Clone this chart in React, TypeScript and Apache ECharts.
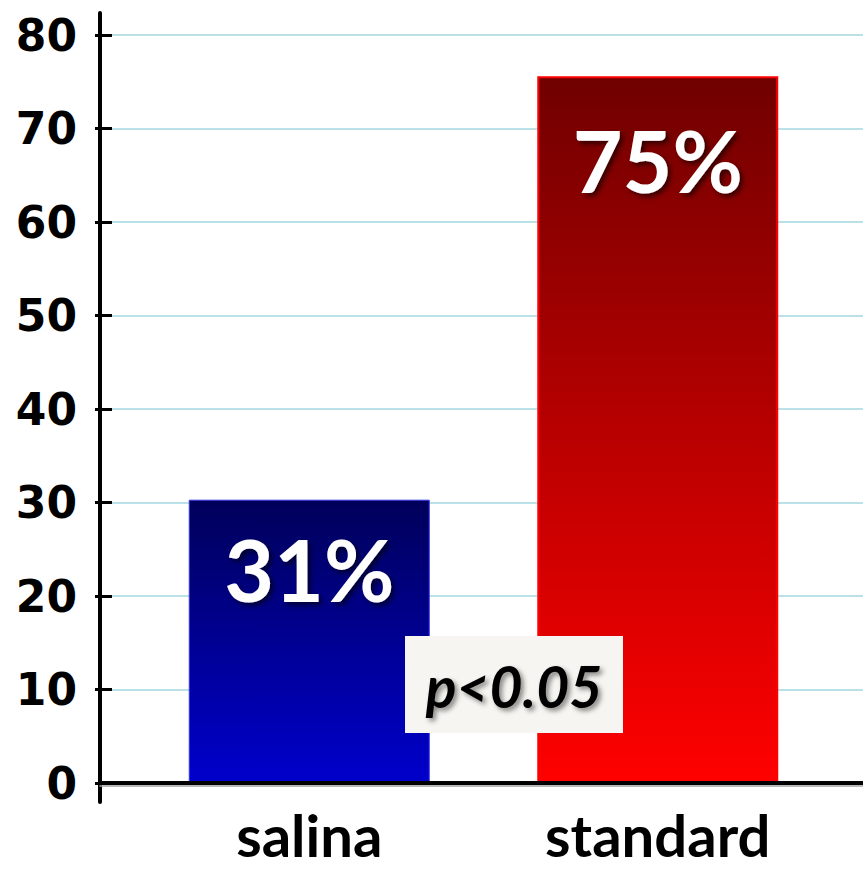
import React, { useEffect, useRef } from "react";
import * as echarts from "echarts";

const categories = ["salina", "standard"];
const values = [30.3, 75.6];
const valueLabels = ["31%", "75%"];
const labelDistances = [26, 40];
const yMin = 0;
const yMax = 80;
const yInterval = 10;
const annotationText = "p<0.05";

const gradients = [
  ["#00005a", "#0000cc"],
  ["#700000", "#ff0000"],
];
const borders = [
  { color: "#3434e8", width: 1 },
  { color: "#ff0000", width: 2 },
];

export default function App() {
  const ref = useRef<HTMLDivElement>(null);
  useEffect(() => {
    if (!ref.current) return;
    const chart = echarts.init(ref.current, null, { renderer: "svg" });
    const data = values.map((v, i) => ({
      value: v,
      itemStyle: {
        color: new echarts.graphic.LinearGradient(0, 0, 0, 1, [
          { offset: 0, color: gradients[i][0] },
          { offset: 1, color: gradients[i][1] },
        ]),
        borderColor: borders[i].color,
        borderWidth: borders[i].width,
      },
      label: {
        show: true,
        position: "insideTop",
        distance: labelDistances[i],
        formatter: () => valueLabels[i],
      },
    }));
    chart.setOption({
      animation: false,
      backgroundColor: "#ffffff",
      grid: [
        { left: 100, right: 0, top: 35, bottom: 86 },
        { left: 135, right: 31, top: 35, bottom: 86 },
        { left: 100, right: 0, top: 13, bottom: 67 },
      ],
      xAxis: [
        {
          gridIndex: 0,
          type: "value",
          position: "bottom",
          min: 0,
          max: 1,
          z: 5,
          axisLine: {
            show: true,
            onZero: false,
            lineStyle: { color: "#000", width: 4 },
          },
          axisTick: { show: false },
          axisLabel: { show: false },
          splitLine: { show: false },
        },
        {
          gridIndex: 1,
          type: "category",
          data: categories,
          axisLine: { show: false },
          axisTick: { show: false },
          axisLabel: {
            color: "#000",
            fontFamily: "Lato",
            fontWeight: "bold",
            fontSize: 58,
            lineHeight: 58,
            margin: 22,
          },
        },
        {
          gridIndex: 2,
          type: "value",
          min: 0,
          max: 1,
          show: false,
        },
        {
          gridIndex: 0,
          type: "value",
          position: "bottom",
          offset: 2.5,
          min: 0,
          max: 1,
          z: 4,
          axisLine: {
            show: true,
            onZero: false,
            lineStyle: { color: "#a0a0a0", width: 1.5 },
          },
          axisTick: { show: false },
          axisLabel: { show: false },
          splitLine: { show: false },
        },
      ],
      yAxis: [
        {
          gridIndex: 0,
          type: "value",
          position: "left",
          min: yMin,
          max: yMax,
          interval: yInterval,
          axisLine: { show: true, onZero: false, lineStyle: { color: "#000", width: 4 } },
          axisTick: {
            show: true,
            inside: true,
            length: 12,
            lineStyle: { color: "#000", width: 3 },
          },
          axisLabel: {
            color: "#000",
            fontFamily: "DejaVu Sans",
            fontWeight: "bold",
            fontSize: 44,
            margin: 23,
          },
          splitLine: {
            show: true,
            lineStyle: { color: "#a3d6e0", width: 1.5 },
          },
        },
        {
          gridIndex: 0,
          type: "value",
          position: "left",
          min: yMin,
          max: yMax,
          interval: yInterval,
          axisLine: { show: false },
          axisTick: {
            show: true,
            inside: false,
            length: 5,
            lineStyle: { color: "#000", width: 3 },
          },
          axisLabel: { show: false },
          splitLine: { show: false },
        },
        {
          gridIndex: 1,
          type: "value",
          min: yMin,
          max: yMax,
          interval: yInterval,
          show: false,
        },
        {
          gridIndex: 2,
          type: "value",
          position: "left",
          min: 0,
          max: 1,
          axisLine: { show: true, onZero: false, lineStyle: { color: "#000", width: 4 } },
          axisTick: { show: false },
          axisLabel: { show: false },
          splitLine: { show: false },
        },
      ],
      series: [
        {
          type: "bar",
          xAxisIndex: 1,
          yAxisIndex: 2,
          barWidth: 241,
          data,
          label: {
            color: "#fff",
            fontFamily: "Lato",
            fontWeight: "bold",
            fontSize: 86,
            lineHeight: 86,
            textShadowColor: "rgba(0,0,0,0.6)",
            textShadowBlur: 5,
            textShadowOffsetX: 3,
            textShadowOffsetY: 3,
          },
        },
      ],
      graphic: [
        {
          type: "rect",
          z: 100,
          shape: { x: 405, y: 636, width: 218, height: 97 },
          style: { fill: "#f6f5f1" },
        },
        {
          type: "text",
          z: 101,
          x: 514,
          y: 686,
          style: {
            text: annotationText,
            fill: "#000",
            fontFamily: "Lato",
            fontWeight: "bold",
            fontStyle: "italic",
            fontSize: 57,
            align: "center",
            verticalAlign: "middle",
            textShadowColor: "rgba(0,0,0,0.45)",
            textShadowBlur: 5,
            textShadowOffsetX: 3,
            textShadowOffsetY: 3,
          },
        },
      ],
    });
    return () => chart.dispose();
  }, []);
  return (
    <div
      ref={ref}
      style={{ position: "fixed", left: 0, top: 0, width: 863, height: 869 }}
    />
  );
}
